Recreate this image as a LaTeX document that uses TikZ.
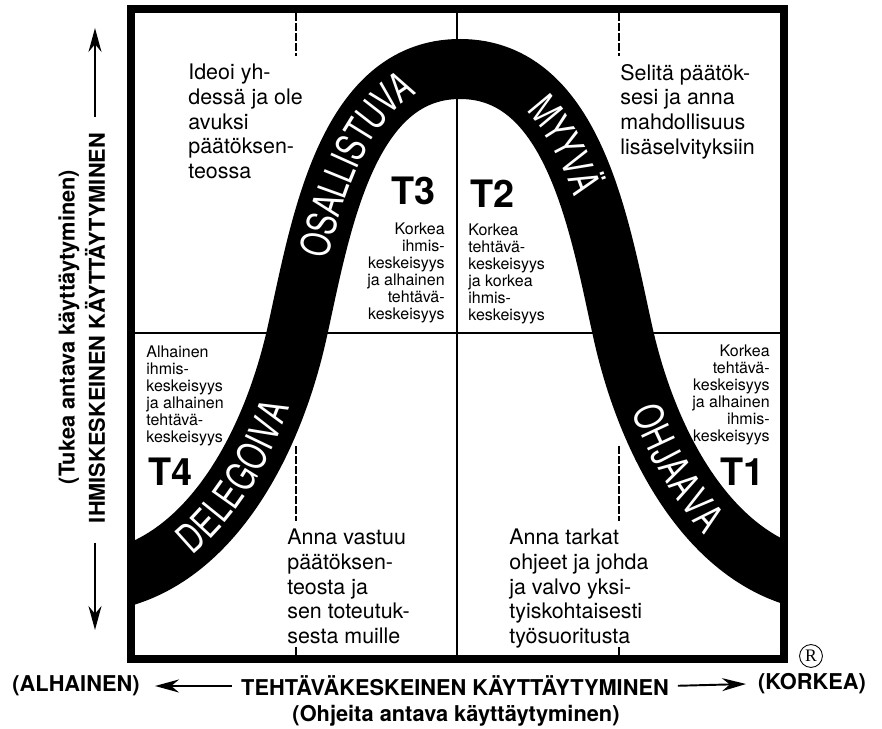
\documentclass[tikz,border=0pt]{standalone}
\usepackage{fontspec}
\setmainfont{TeX Gyre Heros}
\newfontfamily\bandfont[FakeStretch=0.74]{TeX Gyre Heros}
\newfontfamily\regfont{Liberation Serif}
\usetikzlibrary{
  positioning, calc, arrows.meta, decorations.text
}
\tikzset{
	bodytext/.style={font=\fontsize{12.2}{14}\selectfont, inner sep=0pt}
}
\tikzset{
	smalltext/.style={font=\fontsize{9.1}{9.7}\selectfont, inner sep=0pt}
}
\tikzset{
	axistext/.style={font=\fontsize{12.4}{14}\selectfont\bfseries, inner sep=0pt}
}

\begin{document}
\begin{tikzpicture}[x=0.02cm, y=-0.02cm]
	\tikzset{
		tlabel/.style={
				font=\fontsize{21.5}{21.5}\selectfont\bfseries,
				inner sep=0pt
			},
		quarterline/.style={
				line width=0.6pt,
				dash pattern=on 4.5pt off 1.2pt
			},
		axisarrow/.style={
				line width=1.1pt,
				shorten <=5pt,
				-{Stealth[length=0.48cm, width=0.26cm]}
			},
		bandtext/.style 2 args={
				decorate,
				decoration={
						text along path,
						text={|\bandfont\fontsize{23}{23}\selectfont|#1},
						text color=white,
						text align={#2},
						raise=-8.2pt
					}
			}
	}
	\useasboundingbox (0,0) rectangle (882,729);

	\coordinate (lowL) at (110,580);
	\coordinate (sideL) at (297,333);
	\coordinate (top) at (460,69);
	\coordinate (sideR) at (623,333);
	\coordinate (lowR) at (810,580);

	% quadrants
	\draw[line width=1pt] (457,9) -- (457,659);
	\draw[line width=1pt] (131,333) -- (784,333);
	\foreach \qx in {296,619} {
			\draw[quarterline] (\qx,13) -- (\qx,56);
			\draw[quarterline] (\qx,446) -- (\qx,521);
			\draw[quarterline] (\qx,647) -- (\qx,655);
		}

	% the bell
	\begin{scope}
		\clip (131,9) rectangle (784,659);
		\draw[line width=1.2cm] (lowL) .. controls (210,560) and (272,445) .. (sideL)
		.. controls (320,230) and (345,69) .. (top)
		.. controls (575,69) and (600,230) .. (sideR)
		.. controls (648,445) and (710,560) .. (lowR);
	\end{scope}
	\path[bandtext={DELEGOIVA}{center, left indent=0.2cm}] (lowL) .. controls (210,560) and (272,445) .. (sideL);
	\path[bandtext={OSALLISTUVA}{center, left indent=0.52cm}] (sideL) .. controls (320,230) and (345,69) .. (top);
	\path[bandtext={MYYVÄ}{center, right indent=1.2cm}] (top) .. controls (575,69) and (600,230) .. (sideR);
	\path[bandtext={OHJAAVA}{center, right indent=0.68cm}] (sideR) .. controls (648,445) and (710,560) .. (lowR);

	\draw[line width=4.5pt] (131,9) rectangle (784,659);

	% styles
	\node[bodytext, anchor=north west, align=left] (idea) at (188,64) {Ideoi yh-\\dessä ja ole\\avuksi\\päätöksen-\\teossa};
	\node[bodytext, anchor=north west, align=left] (explain) at (620,64) {Selitä päätök-\\sesi ja anna\\mahdollisuus\\lisäselvityksiin};
	\node[bodytext, anchor=north west, align=left] (delegate) at (287,529) {Anna vastuu\\päätöksen-\\teosta ja\\sen toteutuk-\\sesta muille};
	\node[bodytext, anchor=north west, align=left] (direct) at (509,529) {Anna tarkat\\ohjeet ja johda\\ja valvo yksi-\\tyiskohtaisesti\\työsuoritusta};

	\node[smalltext, anchor=north east, align=right] (t3text) at (445,222) {Korkea\\ihmis-\\keskeisyys\\ja alhainen\\tehtävä-\\keskeisyys};
	\node[smalltext, anchor=north west, align=left] (t2text) at (468,223) {Korkea\\tehtävä-\\keskeisyys\\ja korkea\\ihmis-\\keskeisyys};
	\node[smalltext, anchor=north west, align=left] (t4text) at (146,345) {Alhainen\\ihmis-\\keskeisyys\\ja alhainen\\tehtävä-\\keskeisyys};
	\node[smalltext, anchor=north east, align=right] (t1text) at (770,344) {Korkea\\tehtävä-\\keskeisyys\\ja alhainen\\ihmis-\\keskeisyys};

	\node[tlabel, anchor=north east] (t3) at (436,177) {T3};
	\node[tlabel, anchor=north west] (t2) at (470,180) {T2};
	\node[tlabel, anchor=north west] (t4) at (148,458) {T4};
	\node[tlabel, anchor=north east] (t1) at (765,458) {T1};

	% axes
	\node[axistext] (xlab) at (455,686) {TEHTÄVÄKESKEINEN KÄYTTÄYTYMINEN};
	\node[axistext] (xlow) at (76,686) {(ALHAINEN)};
	\node[axistext] (xhigh) at (812,684) {(KORKEA)};
	\node[axistext] (xsub) at (456,716) {(Ohjeita antava käyttäytyminen)};
	\coordinate (xlowtip) at (155,686);
	\coordinate (xhightip) at (746,684);
	\draw[axisarrow] (xlab.west) -- (xlowtip);
	\draw[axisarrow] (xlab.east) -- (xhightip);

	\node[axistext, rotate=90] (ylab) at (95,328) {IHMISKESKEINEN KÄYTTÄYTYMINEN};
	\node[axistext, rotate=90] (ysub) at (69,327) {(Tukea antava käyttäytyminen)};
	\coordinate (yhightip) at (95,28);
	\coordinate (ylowtip) at (95,630);
	\draw[axisarrow, shorten <=9pt] (ylab.east) -- (yhightip);
	\draw[axisarrow, shorten <=11pt] (ylab.west) -- (ylowtip);

	\node[draw, circle, line width=0.5pt, minimum size=13pt, inner sep=0pt, font=\regfont\fontsize{10}{10}\selectfont] (reg) at (811,656) {R};
\end{tikzpicture}
\end{document}
